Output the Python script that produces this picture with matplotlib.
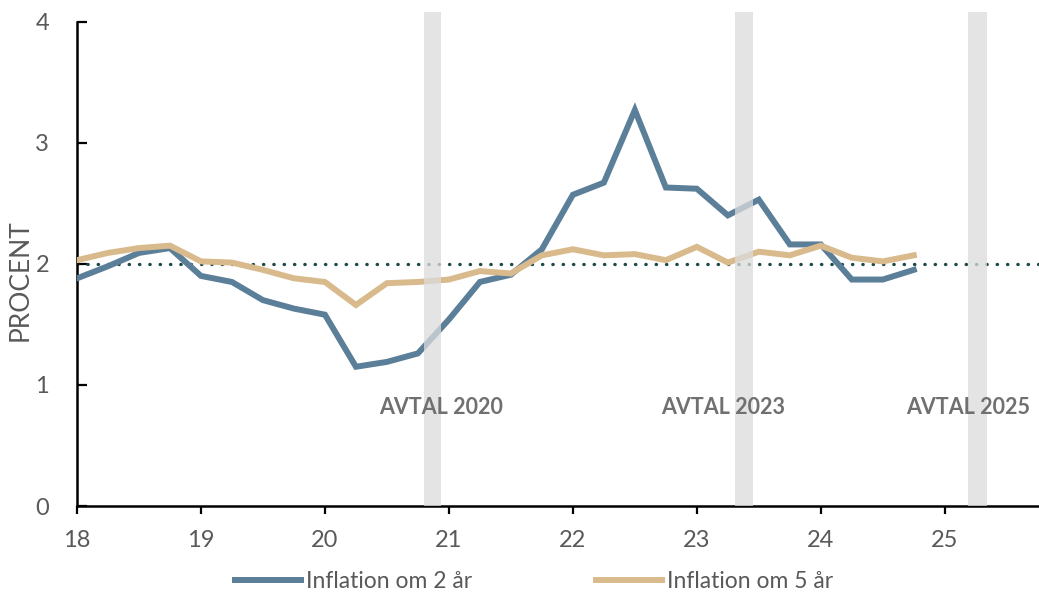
import numpy as np
import matplotlib
matplotlib.use("Agg")
from matplotlib import pyplot as plt

# kvartal från 2018 till 2024 Q4
years = np.arange(28) / 4 + 18

infl_2y = [1.88, 1.98, 2.09, 2.13, 1.90, 1.85, 1.70, 1.63,
           1.58, 1.15, 1.19, 1.26, 1.54, 1.85, 1.91, 2.12,
           2.57, 2.67, 3.27, 2.63, 2.62, 2.40, 2.53, 2.16,
           2.16, 1.87, 1.87, 1.95]
infl_5y = [2.03, 2.09, 2.13, 2.15, 2.02, 2.01, 1.95, 1.88,
           1.85, 1.66, 1.84, 1.85, 1.87, 1.94, 1.92, 2.07,
           2.12, 2.07, 2.08, 2.03, 2.14, 2.01, 2.10, 2.07,
           2.15, 2.05, 2.02, 2.07]

target = 2.0
deals = ["AVTAL 2020", "AVTAL 2023", "AVTAL 2025"]
deal_spans = [(20.80, 20.94), (23.31, 23.45), (25.19, 25.34)]
deal_text_x = [20.94, 23.21, 24.69]

blue = "#5b7e99"
beige = "#d9ba8c"
grey_txt = "#595959"

plt.rcParams["font.family"] = ["Lato", "DejaVu Sans"]

fig = plt.figure(figsize=(10.39, 5.96), dpi=100)
ax = fig.add_axes([0.0741, 0.151, 0.9259, 0.829])

ax.plot(years, infl_2y, color=blue, lw=4.3, solid_joinstyle="miter", zorder=3,
        label="Inflation om 2 år")
ax.plot(years, infl_5y, color=beige, lw=4.3, solid_joinstyle="miter", zorder=3,
        label="Inflation om 5 år")
ax.axhline(target, color="#1d4a48", lw=2.4, linestyle=(0, (0.1, 3.0)),
           dash_capstyle="round", zorder=2)

for (a, b), name, tx, ha in zip(deal_spans, deals, deal_text_x, ["center", "center", "left"]):
    ax.axvspan(a, b, color="#dcdcdc", alpha=0.75, lw=0, zorder=4)
    ax.text(tx, 0.81, name, ha=ha, va="center", fontsize=15.5,
            fontweight="bold", color="#707070", zorder=5)

ax.set_xlim(18, 25.76)
ax.set_ylim(0, 4.08)
ax.set_xticks(range(18, 26))
ax.set_yticks(range(0, 5))

for side in ("top", "right"):
    ax.spines[side].set_visible(False)
ax.spines["left"].set_bounds(0, 4)
ax.spines["left"].set_linewidth(1.8)
ax.spines["bottom"].set_linewidth(1.8)

ax.tick_params(axis="x", direction="out", length=6, width=1.6, pad=11,
               labelsize=17, labelcolor=grey_txt)
ax.tick_params(axis="y", direction="in", length=7, width=1.6, pad=20,
               labelsize=17, labelcolor=grey_txt)

ax.set_ylabel("PROCENT", fontsize=19, color=grey_txt)
ax.yaxis.set_label_coords(-0.046, 0.457)

fig.legend(loc="center", bbox_to_anchor=(0.514, 0.025), ncol=2, frameon=False,
           fontsize=16.5, handlelength=2.9, handletextpad=0.2, columnspacing=5.4,
           labelcolor=grey_txt)

fig.savefig("out.png", dpi=100)
